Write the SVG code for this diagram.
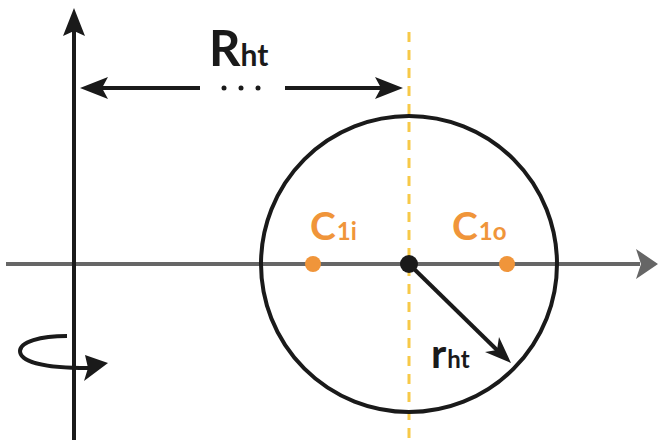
<svg xmlns="http://www.w3.org/2000/svg" width="659" height="440" viewBox="0 0 659 440">
<style>
.t{font-family:Lato,"Open Sans",sans-serif;font-weight:700}
.k{fill:#1a1a1a}
.o{fill:#f0953a}
</style>
<rect width="659" height="440" fill="#fff"/>
<g id="yellow-axis"><line x1="409" y1="32" x2="409" y2="440" stroke="#f7c948" stroke-width="3" stroke-dasharray="10,8"/></g>
<g id="connectors">
<line x1="6" y1="264" x2="640" y2="264" stroke="#666" stroke-width="4"/>
<path d="M636,249 L658,264 L636,279 L641,264 Z" fill="#666"/>
<line x1="74" y1="440" x2="74" y2="30" stroke="#1a1a1a" stroke-width="4"/>
<path d="M63,36 L74,8 L85,36 L74,31 Z" fill="#1a1a1a"/>
<line x1="98" y1="88" x2="200" y2="88" stroke="#1a1a1a" stroke-width="4"/>
<path d="M80,88 L108,77 L102,88 L108,99 Z" fill="#1a1a1a"/>
<line x1="285" y1="88" x2="385" y2="88" stroke="#1a1a1a" stroke-width="4"/>
<path d="M403,88 L375,77 L381,88 L375,99 Z" fill="#1a1a1a"/>
<circle cx="224" cy="88" r="2.5" class="k"/><circle cx="241" cy="88" r="2.5" class="k"/><circle cx="258" cy="88" r="2.5" class="k"/>
<line x1="409" y1="264" x2="498" y2="351" stroke="#1a1a1a" stroke-width="4"/>
<path d="M511,363 L485,352 L497,350 L499,337 Z" fill="#1a1a1a"/>
<path d="M67,336 C40,336 20,342 20,351 C20,362 45,368 88,368" fill="none" stroke="#1a1a1a" stroke-width="4"/>
<path d="M108,363 L85,355 L88,368 L84,381 Z" fill="#1a1a1a"/>
</g>
<g id="circle"><circle cx="409" cy="264" r="148" fill="none" stroke="#1a1a1a" stroke-width="4"/></g>
<g id="center"><circle cx="409" cy="264" r="9" class="k"/></g>
<g id="c1i"><circle cx="313" cy="264" r="8" class="o"/>
<text class="t o" x="310" y="240" font-size="39">C<tspan font-size="24" dx="1">1i</tspan></text></g>
<g id="c1o"><circle cx="507" cy="264" r="8" class="o"/>
<text class="t o" x="452" y="240" font-size="39">C<tspan font-size="24" dx="1">1o</tspan></text></g>
<g id="Rht"><text class="t k" x="209" y="66" font-size="49">R<tspan font-size="30" dx="0">ht</tspan></text></g>
<g id="rht"><text class="t k" x="431" y="368" font-size="41">r<tspan font-size="24" dx="1">ht</tspan></text></g>
</svg>
